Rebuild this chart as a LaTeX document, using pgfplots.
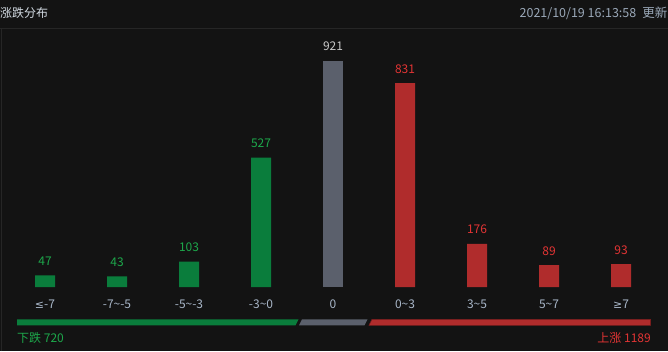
\documentclass[border=0pt]{standalone}
\usepackage{pgfplots}
\pgfplotsset{compat=1.18}
\usepackage{fontspec}
\setmainfont{Noto Sans CJK SC}
\newfontfamily\sym{DejaVu Sans}
\definecolor{bg}{HTML}{131313}
\definecolor{sep}{HTML}{262626}
\definecolor{titlec}{HTML}{D4DCE4}
\definecolor{timec}{HTML}{9AA8B8}
\definecolor{gbar}{HTML}{0A7D3C}
\definecolor{gtxt}{HTML}{1DA84B}
\definecolor{rbar}{HTML}{B02C2C}
\definecolor{rtxt}{HTML}{E23434}
\definecolor{rbord}{HTML}{7A1D1D}
\definecolor{fbar}{HTML}{5B606C}
\definecolor{ftxt}{HTML}{C8C8C8}
\definecolor{catc}{HTML}{A8B6C8}
\pgfplotstableread{
x y
0 47
1 43
2 103
3 527
}\down
\pgfplotstableread{
x y
4 921
}\flat
\pgfplotstableread{
x y
5 831
6 176
7 89
8 93
}\up
\begin{document}
\begin{tikzpicture}[x=1pt,y=1pt]
\path[use as bounding box] (0,0) rectangle (668,351);
\fill[bg] (0,0) rectangle (668,351);
\draw[sep, line width=1pt] (0,322.5) -- (668,322.5);
\draw[sep, line width=1pt] (1.5,0) -- (1.5,322.5);
\node[anchor=west, inner sep=0pt, text=titlec, font=\fontsize{12}{12}\selectfont] at (0,338) {涨跌分布};
\node[anchor=east, inner sep=0pt, text=timec, font=\fontsize{12.5}{12.5}\selectfont] at (667.5,338) {2021/10/19 16:13:58\hspace{6pt}更新};
\begin{axis}[
  at={(0pt,64pt)}, anchor=south west,
  scale only axis, width=668pt, height=287pt,
  xmin=-0.625, xmax=8.6528, ymin=0, ymax=1169.5,
  clip=false,
  /pgf/number format/assume math mode=true,
  axis line style={draw=none},
  tick style={draw=none},
  ytick=\empty,
  xtick={0,...,8},
  xticklabels={{\sym\fontsize{11}{11}\selectfont ≤}-7,-7\textasciitilde-5,-5\textasciitilde-3,-3\textasciitilde0,0,0\textasciitilde3,3\textasciitilde5,5\textasciitilde7,{\sym\fontsize{11}{11}\selectfont ≥}7},
  xticklabel style={anchor=base, yshift=-17pt, text=catc, font=\fontsize{12}{12}\selectfont},
  ybar, bar width=20pt, bar shift=0pt,
  nodes near coords,
  every node near coord/.append style={anchor=base, yshift=10pt, font=\fontsize{12}{12}\selectfont},
]
\addplot[fill=gbar, draw=none, nodes near coords style={text=gtxt}] table {\down};
\addplot[fill=fbar, draw=none, nodes near coords style={text=ftxt}] table {\flat};
\addplot[fill=rbar, draw=none, nodes near coords style={text=rtxt}] table {\up};
\end{axis}
\fill[gbar] (17,25.7) -- (17,31.7) -- (298.5,31.7) -- (295.5,25.7) -- cycle;
\fill[fbar] (299,25.7) -- (302,31.7) -- (367.5,31.7) -- (364.5,25.7) -- cycle;
\filldraw[fill=rbar, draw=rbord, line width=0.6pt] (369,25.7) -- (372,31.7) -- (650.5,31.7) -- (650.5,25.7) -- cycle;
\node[anchor=base west, inner sep=0pt, text=gtxt, font=\fontsize{12}{12}\selectfont] at (17,9) {下跌 720};
\node[anchor=base east, inner sep=0pt, text=rtxt, font=\fontsize{12}{12}\selectfont] at (651,9) {上涨 1189};
\end{tikzpicture}
\end{document}
